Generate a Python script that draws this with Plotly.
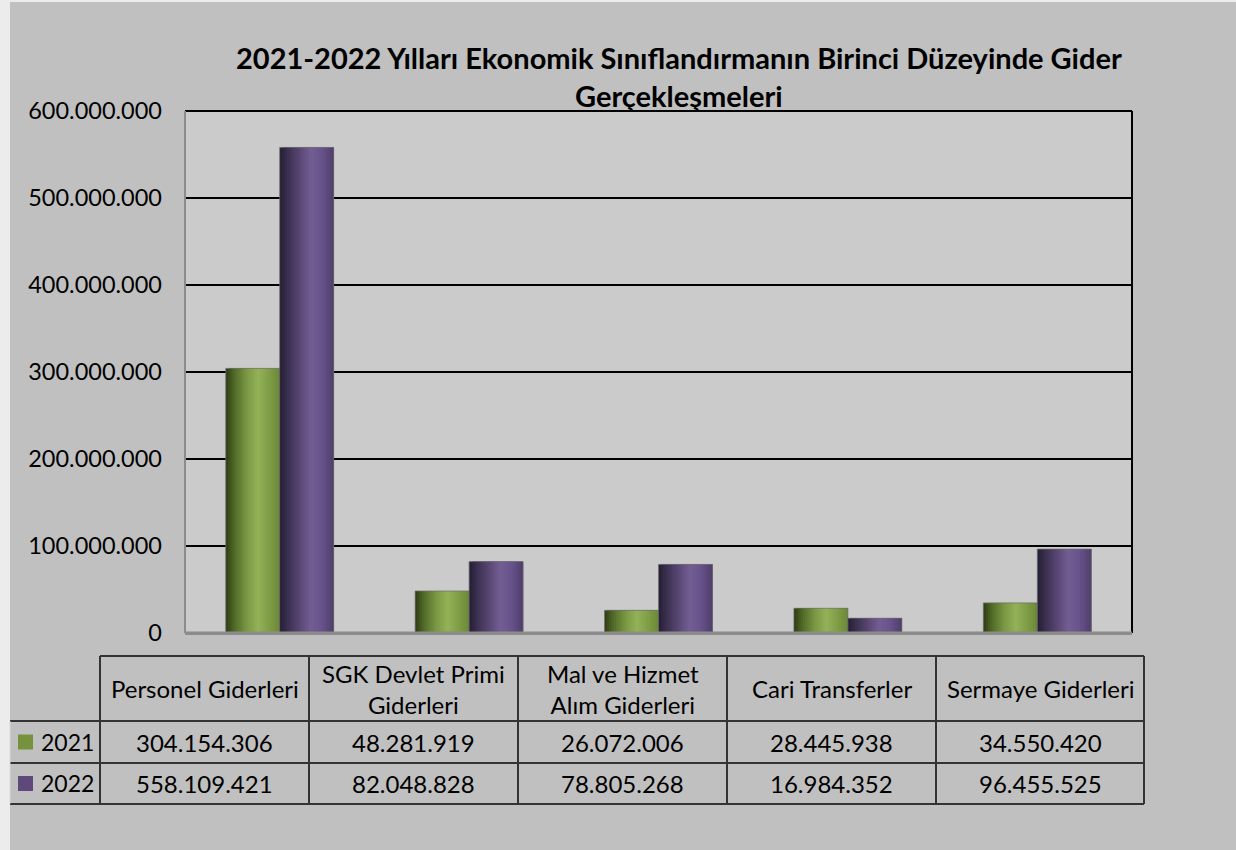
import plotly.graph_objects as go

categories = ["Personel Giderleri", "SGK Devlet Primi Giderleri", "Mal ve Hizmet Alım Giderleri",
              "Cari Transferler", "Sermaye Giderleri"]
header_labels = ["Personel Giderleri", "SGK Devlet Primi<br>Giderleri", "Mal ve Hizmet<br>Alım Giderleri",
                 "Cari Transferler", "Sermaye Giderleri"]
years = ["2021", "2022"]
values_2021 = [304154306, 48281919, 26072006, 28445938, 34550420]
values_2022 = [558109421, 82048828, 78805268, 16984352, 96455525]
title_text = "2021-2022 Yılları Ekonomik Sınıflandırmanın Birinci Düzeyinde Gider<br>Gerçekleşmeleri"

W, H = 1236, 850
L, R, T, B = 185, 1132, 111, 633
FONT = "Lato"

def px2x(px):
    return (px - L) / (R - L)

def py2y(py):
    return (B - py) / (B - T)

def hex2rgb(h):
    h = h.lstrip("#")
    return tuple(int(h[i:i + 2], 16) for i in (0, 2, 4))

def interp(stops, t):
    for (t0, c0), (t1, c1) in zip(stops, stops[1:]):
        if t0 <= t <= t1:
            f = (t - t0) / (t1 - t0) if t1 > t0 else 0
            a, b = hex2rgb(c0), hex2rgb(c1)
            return "rgb(%d,%d,%d)" % tuple(round(a[i] + (b[i] - a[i]) * f) for i in range(3))
    return stops[-1][1]

green_stops = [(0, "#2e3a15"), (0.15, "#4f6826"), (0.4, "#7c9a45"), (0.6, "#93b157"), (0.8, "#809e47"), (1.0, "#6b8836")]
purple_stops = [(0, "#251e33"), (0.15, "#3b3050"), (0.4, "#5d4a78"), (0.58, "#735e93"), (0.8, "#66518a"), (1.0, "#4e3e69")]

series = [(values_2021, green_stops, -1), (values_2022, purple_stops, 0)]
bw = 0.285
N = 24

fig = go.Figure()
for vals, stops, k in series:
    base = k * bw
    for j in range(N):
        t = (j + 0.5) / N
        start = base + j * bw / N
        width = min((bw / N) * 3, base + bw - start)
        fig.add_trace(go.Bar(
            x=categories, y=vals, width=width, offset=start,
            marker=dict(color=interp(stops, t), line=dict(width=0)),
            showlegend=False, hoverinfo="skip"))
    fig.add_trace(go.Bar(
        x=categories, y=vals, width=bw, offset=base,
        marker=dict(color="rgba(0,0,0,0)", line=dict(width=1, color="rgba(110,110,110,0.7)")),
        showlegend=False))

shapes = []
shapes.append(dict(type="rect", xref="paper", yref="paper", x0=px2x(10), x1=px2x(W + 5),
                   y0=py2y(2), y1=py2y(H + 5), fillcolor="#c0c0c0", line=dict(width=0), layer="below"))
shapes.append(dict(type="rect", xref="paper", yref="paper", x0=0, x1=1, y0=0, y1=1,
                   fillcolor="#cbcbcb", line=dict(width=0), layer="below"))
shapes.append(dict(type="line", xref="paper", yref="paper", x0=0, x1=1, y0=1, y1=1, line=dict(color="black", width=2)))
shapes.append(dict(type="line", xref="paper", yref="paper", x0=1, x1=1, y0=0, y1=1, line=dict(color="black", width=2)))
shapes.append(dict(type="line", xref="paper", yref="paper", x0=0, x1=0, y0=0, y1=1, line=dict(color="#8c8c8c", width=2)))
shapes.append(dict(type="line", xref="paper", yref="paper", x0=0, x1=1, y0=0, y1=0, line=dict(color="#8c8c8c", width=3)))

col_x = [100, 309, 518, 727, 936, 1144]
row_y = [656, 721, 763, 804]
tl = dict(color="#333333", width=2)
shapes.append(dict(type="line", xref="paper", yref="paper", x0=px2x(100), x1=px2x(1144), y0=py2y(656), y1=py2y(656), line=tl))
for yy in row_y[1:]:
    shapes.append(dict(type="line", xref="paper", yref="paper", x0=px2x(10), x1=px2x(1144), y0=py2y(yy), y1=py2y(yy), line=tl))
for xx in col_x:
    shapes.append(dict(type="line", xref="paper", yref="paper", x0=px2x(xx), x1=px2x(xx), y0=py2y(656), y1=py2y(804), line=tl))
shapes.append(dict(type="line", xref="paper", yref="paper", x0=px2x(10), x1=px2x(10), y0=py2y(721), y1=py2y(804),
                   line=dict(color="#d8d8d8", width=1)))

annotations = []
annotations.append(dict(text="<b>" + title_text + "</b>", x=px2x(679), y=py2y(76), xref="paper", yref="paper",
                        xanchor="center", yanchor="middle", showarrow=False,
                        font=dict(family=FONT, size=29, color="black"), align="center"))

def fmt(v):
    return f"{v:,}".replace(",", ".")

for i, lab in enumerate(header_labels):
    cx = (col_x[i] + col_x[i + 1]) / 2
    annotations.append(dict(text=lab, x=px2x(cx), y=py2y((656 + 721) / 2), xref="paper", yref="paper",
                            xanchor="center", yanchor="middle", showarrow=False, align="center",
                            font=dict(family=FONT, size=24, color="black")))
legend_colors = ["#76923c", "#5f497a"]
for r, (yr, vals) in enumerate(zip(years, [values_2021, values_2022])):
    cy = (row_y[r + 1] + row_y[r + 2]) / 2
    shapes.append(dict(type="rect", xref="paper", yref="paper", x0=px2x(18), x1=px2x(33),
                       y0=py2y(cy - 7.5), y1=py2y(cy + 7.5), fillcolor=legend_colors[r], line=dict(width=0)))
    annotations.append(dict(text=yr, x=px2x(39), y=py2y(cy), xref="paper", yref="paper",
                            xanchor="left", yanchor="middle", showarrow=False,
                            font=dict(family=FONT, size=23, color="black")))
    for i, v in enumerate(vals):
        cx = (col_x[i] + col_x[i + 1]) / 2
        annotations.append(dict(text=fmt(v), x=px2x(cx), y=py2y(cy), xref="paper", yref="paper",
                                xanchor="center", yanchor="middle", showarrow=False,
                                font=dict(family=FONT, size=24, color="black")))

fig.update_layout(
    width=W, height=H,
    margin=dict(l=L, r=W - R, t=T, b=H - B, pad=0),
    paper_bgcolor="#ececec", plot_bgcolor="rgba(0,0,0,0)",
    barmode="overlay", separators=",.",
    shapes=shapes, annotations=annotations, showlegend=False,
    xaxis=dict(type="category", categoryarray=categories, range=[-0.5, 4.5], showticklabels=False,
               showgrid=False, zeroline=False, showline=False, ticks=""),
    yaxis=dict(range=[0, 600000000], dtick=100000000, tickformat=",.0f", showgrid=True,
               gridcolor="black", gridwidth=2, zeroline=True, zerolinecolor="#8c8c8c", zerolinewidth=3,
               showline=False, ticks="", ticklabelstandoff=22,
               tickfont=dict(family=FONT, size=23.5, color="black")),
)

fig.write_html("out.html", config={"displayModeBar": False},
               post_script="document.body.style.margin='0';document.body.style.overflow='hidden';")
